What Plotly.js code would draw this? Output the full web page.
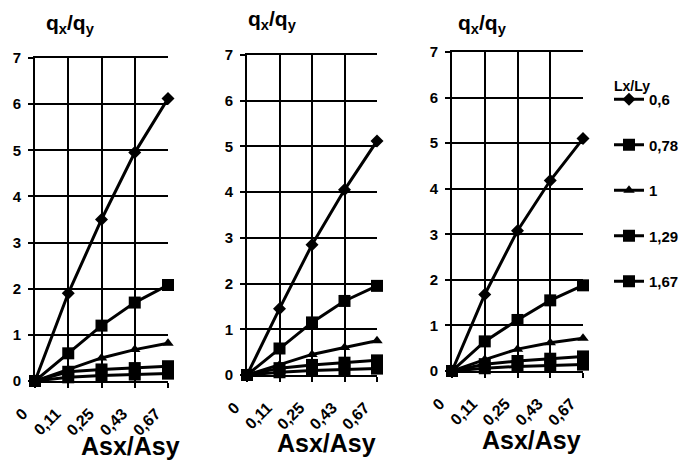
<!DOCTYPE html>
<html>
<head>
<meta charset="utf-8">
<script src="https://cdn.plot.ly/plotly-3.0.1.min.js"></script>
<style>html,body{margin:0;padding:0;background:#fff;}#chart{width:694px;height:472px;}</style>
</head>
<body>
<div id="chart"></div>
<script>
// Categories (x axis) and series names (legend)
const categories = ['0', '0,11', '0,25', '0,43', '0,67'];
const seriesNames = ['0,6', '0,78', '1', '1,29', '1,67'];
const yTicks = [0, 1, 2, 3, 4, 5, 6, 7];

// Panel 1 values
const p1_06  = [0, 1.90, 3.50, 4.95, 6.12];
const p1_078 = [0, 0.60, 1.20, 1.70, 2.08];
const p1_1   = [0, 0.25, 0.50, 0.68, 0.82];
const p1_129 = [0, 0.20, 0.25, 0.28, 0.32];
const p1_167 = [0, 0.08, 0.12, 0.14, 0.16];

// Panel 2 values
const p2_06  = [0, 1.45, 2.85, 4.05, 5.12];
const p2_078 = [0, 0.58, 1.15, 1.62, 1.95];
const p2_1   = [0, 0.22, 0.45, 0.60, 0.75];
const p2_129 = [0, 0.15, 0.22, 0.27, 0.32];
const p2_167 = [0, 0.06, 0.10, 0.12, 0.14];

// Panel 3 values
const p3_06  = [0, 1.68, 3.08, 4.18, 5.10];
const p3_078 = [0, 0.65, 1.12, 1.55, 1.88];
const p3_1   = [0, 0.25, 0.48, 0.62, 0.72];
const p3_129 = [0, 0.15, 0.22, 0.27, 0.32];
const p3_167 = [0, 0.06, 0.10, 0.12, 0.14];

const panels = [
  [p1_06, p1_078, p1_1, p1_129, p1_167],
  [p2_06, p2_078, p2_1, p2_129, p2_167],
  [p3_06, p3_078, p3_1, p3_129, p3_167]
];

const markerSymbols = ['diamond', 'square', 'triangle-up', 'square', 'square'];
const markerSizes = [10, 12, 10, 12, 12];

const FONT = 'Arial, Liberation Sans, sans-serif';
const bold = s => '<b>' + s + '</b>';
const traces = [];
panels.forEach((series, pi) => {
  series.forEach((vals, si) => {
    traces.push({
      type: 'scatter',
      mode: 'lines+markers',
      x: categories,
      y: vals,
      name: bold(seriesNames[si]),
      xaxis: pi === 0 ? 'x' : 'x' + (pi + 1),
      yaxis: pi === 0 ? 'y' : 'y' + (pi + 1),
      line: {color: '#000', width: 3},
      marker: {symbol: markerSymbols[si], size: markerSizes[si], color: '#000'},
      cliponaxis: false,
      showlegend: pi === 0,
      legendgroup: 'g' + si
    });
  });
});

const W = 694, H = 472;
const boxes = [
  {l: 35, r: 168, t: 58, b: 381},
  {l: 247, r: 377, t: 55, b: 375},
  {l: 452, r: 583, t: 52, b: 371}
];

const layout = {
  width: W, height: H,
  margin: {l: 0, r: 0, t: 0, b: 0},
  paper_bgcolor: '#fff', plot_bgcolor: '#fff',
  font: {family: FONT, color: '#000', size: 14},
  showlegend: true,
  legend: {
    x: 609 / W, y: 1 - 83 / H, xanchor: 'left', yanchor: 'top',
    font: {size: 15, family: FONT, color: '#000'},
    tracegroupgap: 23,
    bgcolor: 'rgba(0,0,0,0)'
  },
  annotations: []
};

boxes.forEach((b, i) => {
  const sx = i === 0 ? '' : String(i + 1);
  layout['xaxis' + sx] = {
    type: 'category',
    domain: [b.l / W, b.r / W],
    anchor: 'y' + sx,
    range: [0, 4],
    tickvals: categories,
    ticktext: categories.map(bold),
    showgrid: true, gridcolor: '#000', gridwidth: 2,
    showline: true, linecolor: '#000', linewidth: 2, mirror: true,
    ticks: 'outside', ticklen: 5, tickcolor: '#000', tickwidth: 2,
    tickangle: -45,
    ticklabelstandoff: 10,
    ticklabelshift: -12,
    tickfont: {size: 16, family: FONT, color: '#000'},
    fixedrange: true, zeroline: false
  };
  layout['yaxis' + sx] = {
    domain: [1 - b.b / H, 1 - b.t / H],
    anchor: 'x' + sx,
    range: [0, 7],
    tickvals: yTicks,
    ticktext: yTicks.map(v => bold(String(v))),
    showgrid: true, gridcolor: '#000', gridwidth: 2,
    showline: true, linecolor: '#000', linewidth: 2,
    ticks: 'outside', ticklen: 5, tickcolor: '#000', tickwidth: 2,
    tickfont: {size: 15, family: FONT, color: '#000'},
    ticklabelstandoff: 4,
    fixedrange: true, zeroline: false
  };
});

const titlePos = [[70, 24], [272, 20], [482, 24]];
const xTitlePos = [[130, 446], [326, 443], [531, 440]];
titlePos.forEach(p => layout.annotations.push({
  xref: 'paper', yref: 'paper', x: p[0] / W, y: 1 - p[1] / H,
  xanchor: 'center', yanchor: 'middle', showarrow: false,
  text: '<b>q<sub>x</sub>/q<sub>y</sub></b>', font: {size: 21, family: FONT}
}));
xTitlePos.forEach(p => layout.annotations.push({
  xref: 'paper', yref: 'paper', x: p[0] / W, y: 1 - p[1] / H,
  xanchor: 'center', yanchor: 'middle', showarrow: false,
  text: '<b>Asx/Asy</b>', font: {size: 25, family: FONT}
}));
layout.annotations.push({
  xref: 'paper', yref: 'paper', x: 632 / W, y: 1 - 86 / H,
  xanchor: 'center', yanchor: 'middle', showarrow: false,
  text: '<b>Lx/Ly</b>', font: {size: 14, family: FONT}
});

Plotly.newPlot('chart', traces, layout, {staticPlot: true, displayModeBar: false});
</script>
</body>
</html>
